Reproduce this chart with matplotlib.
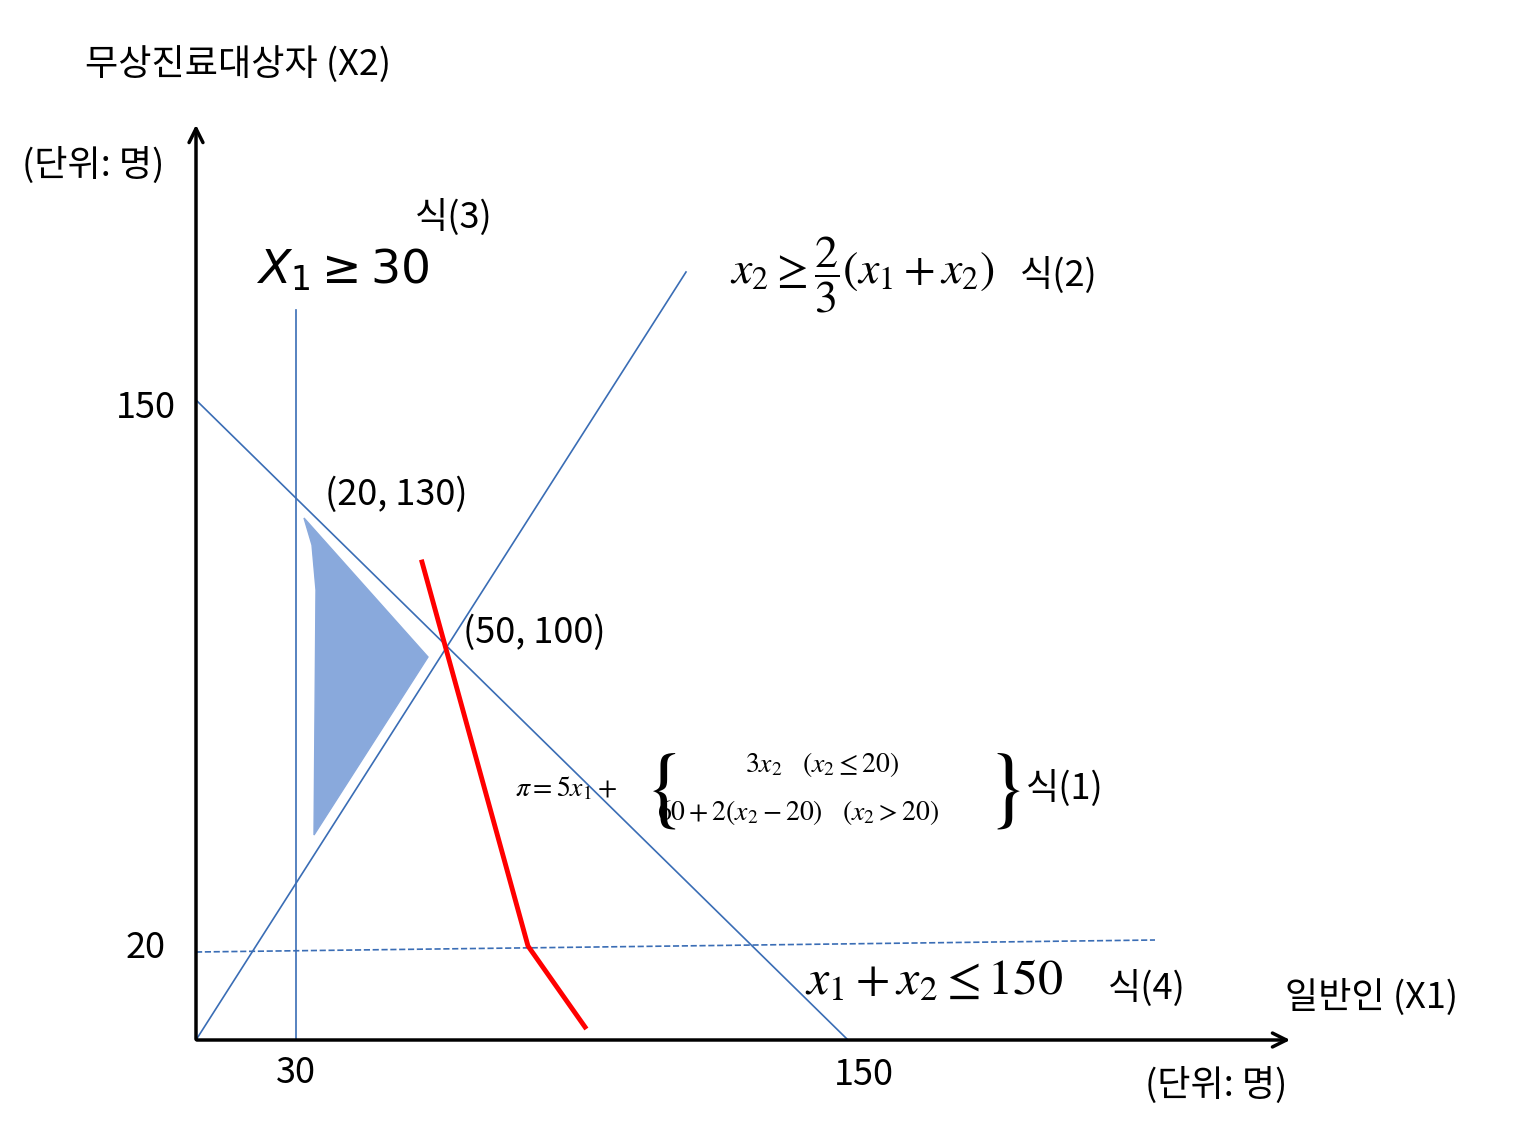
import matplotlib
matplotlib.use("Agg")
import matplotlib.pyplot as plt
from matplotlib.patches import Polygon

plt.rcParams['font.family'] = ['Noto Sans CJK KR', 'DejaVu Sans']
plt.rcParams['mathtext.fontset'] = 'stix'

# diagram geometry (diagram is not to scale; coordinates in drawing units)
axis_y = ([196, 196], [1040, 125])
axis_x = ([196, 1290], [1040, 1040])
line_x1_30 = ([296, 296], [310, 1040])
line_sum150 = ([196, 848], [400, 1040])
line_ratio = ([196, 686], [1040, 272])
line_x2_20 = ([196, 1155], [952, 940])
red_x = [422, 528, 585]
red_y = [562, 946, 1027]
region_x = [304, 312, 316, 314, 428]
region_y = [518, 545, 590, 835, 657]

fig = plt.figure(figsize=(15.2, 11.3), dpi=100)
ax = fig.add_axes([0, 0, 1, 1])
ax.set_xlim(0, 1520); ax.set_ylim(1130, 0); ax.axis('off')

blue = '#3A6DB5'
ax.annotate('', xy=(196, 122), xytext=(196, 1042),
            arrowprops=dict(arrowstyle='->', lw=2.5, color='black', mutation_scale=25))
ax.annotate('', xy=(1293, 1040), xytext=(194, 1040),
            arrowprops=dict(arrowstyle='->', lw=2.5, color='black', mutation_scale=25))
for l in (line_x1_30, line_sum150, line_ratio):
    ax.plot(*l, color=blue, lw=1.2)
ax.plot(*line_x2_20, color=blue, lw=1.2, ls='--')
ax.plot(red_x, red_y, color='red', lw=3.5)
ax.add_patch(Polygon(list(zip(region_x, region_y)), closed=True, color='#89A9DC'))

fs = 26
ax.text(85, 65, '무상진료대상자 (X2)', fontsize=fs, va='center')
ax.text(22, 165, '(단위: 명)', fontsize=fs, va='center')
ax.text(1285, 998, '일반인 (X1)', fontsize=fs, va='center')
ax.text(1145, 1085, '(단위: 명)', fontsize=fs, va='center')
ax.text(176, 408, '150', fontsize=fs, va='center', ha='right')
ax.text(166, 948, '20', fontsize=fs, va='center', ha='right')
ax.text(296, 1073, '30', fontsize=fs, va='center', ha='center')
ax.text(864, 1075, '150', fontsize=fs, va='center', ha='center')
ax.text(325, 495, '(20, 130)', fontsize=fs, va='center')
ax.text(463, 633, '(50, 100)', fontsize=fs, va='center')

ax.text(256, 270, r'$X_1 \geq 30$', fontsize=34, va='center', family='DejaVu Sans',
        math_fontfamily='dejavusans')
ax.text(415, 217, '식(3)', fontsize=fs, va='center')
ax.text(730, 275, r'$x_2 \geq \dfrac{2}{3}(x_1 + x_2)$', fontsize=33, va='center')
ax.text(1020, 275, '식(2)', fontsize=fs, va='center')
ax.text(805, 980, r'$x_1 + x_2 \leq 150$', fontsize=36, va='center')
ax.text(1108, 988, '식(4)', fontsize=fs, va='center')

ax.text(515, 788, r'$\pi = 5x_1 +$', fontsize=20, va='center')
ax.text(643, 788, r'$\{$', fontsize=64, va='center', math_fontfamily='stix')
ax.text(822, 764, r'$3x_2 \quad (x_2 \leq 20)$', fontsize=20, va='center', ha='center')
ax.text(657, 812, r'$60 + 2(x_2 - 20) \quad (x_2 > 20)$', fontsize=20, va='center')
ax.text(985, 788, r'$\}$', fontsize=64, va='center', math_fontfamily='stix')
ax.text(1026, 788, '식(1)', fontsize=fs, va='center')

fig.savefig('out.png', dpi=100)
